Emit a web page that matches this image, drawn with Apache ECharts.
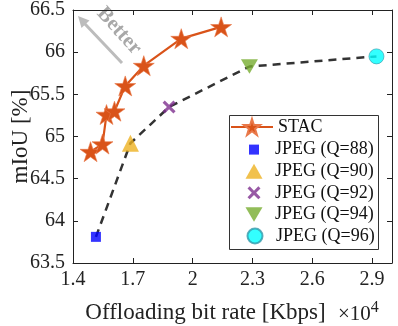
<!DOCTYPE html>
<html>
<head>
<meta charset="utf-8">
<script src="https://cdn.jsdelivr.net/npm/echarts@6/dist/echarts.min.js"></script>
<style>
  html, body { margin: 0; padding: 0; background: #fff; }
  #chart { width: 398px; height: 326px; }
</style>
</head>
<body>
<div id="chart"></div>
<script>
// bit rate in units of 1e4 Kbps, mIoU in %
const stacRate = [1.488, 1.548, 1.568, 1.608, 1.662, 1.755, 1.943, 2.143];
const stacMiou = [64.82, 64.91, 65.26, 65.30, 65.60, 65.84, 66.16, 66.30];

const jpegNames = ['JPEG (Q=88)', 'JPEG (Q=90)', 'JPEG (Q=92)', 'JPEG (Q=94)', 'JPEG (Q=96)'];
const jpegRate = [1.515, 1.688, 1.882, 2.285, 2.922];
const jpegMiou = [63.81, 64.92, 65.35, 65.83, 65.95];

const xTicks = [1.4, 1.7, 2.0, 2.3, 2.6, 2.9];

const font = 'Liberation Serif';
const starPath = 'path://M0,-1 L0.2245,-0.309 L0.951,-0.309 L0.363,0.118 L0.588,0.809 L0,0.382 L-0.588,0.809 L-0.363,0.118 L-0.951,-0.309 L-0.2245,-0.309 Z';
const xPath = 'path://M-3,-2 L-2,-3 L0,-1 L2,-3 L3,-2 L1,0 L3,2 L2,3 L0,1 L-2,3 L-3,2 L-1,0 Z';
const downPath = 'path://M-1,-0.85 L1,-0.85 L0,0.85 Z';

const jpegStyles = [
  { symbol: 'rect', size: 10, color: '#0000ff' },
  { symbol: 'triangle', size: 17, color: '#edb120' },
  { symbol: xPath, size: 13, color: '#7e2f8e' },
  { symbol: downPath, size: 17, color: '#77ac30' },
  { symbol: 'circle', size: 15, color: '#00ffff' }
];
// legend icon sizes [w, h]
const jpegIcons = [[10, 10], [17, 15], [13, 13], [17, 15], [15, 15]];

const chart = echarts.init(document.getElementById('chart'));

const series = [
  {
    name: 'jpegLine',
    type: 'line',
    data: jpegRate.map((x, i) => [x, jpegMiou[i]]),
    showSymbol: false,
    lineStyle: { color: '#333333', width: 2.5, type: [8, 6] },
    z: 1,
    silent: true
  },
  {
    name: 'STAC',
    type: 'line',
    data: stacRate.map((x, i) => [x, stacMiou[i]]),
    symbol: starPath,
    symbolSize: 21,
    symbolKeepAspect: true,
    itemStyle: { color: '#d95319', borderColor: '#e9794a', borderWidth: 0.6 },
    lineStyle: { color: '#d95319', width: 2.2 },
    z: 3
  }
];
jpegNames.forEach((name, i) => {
  const s = jpegStyles[i];
  series.push({
    name: name,
    type: 'scatter',
    data: [[jpegRate[i], jpegMiou[i]]],
    symbol: s.symbol,
    symbolSize: s.size,
    symbolKeepAspect: true,
    itemStyle: {
      color: s.color,
      borderColor: i === 4 ? '#3399aa' : s.color,
      borderWidth: i === 4 ? 0.8 : 0
    },
    z: 4
  });
});

// one legend per entry so each icon keeps its own size
const legendText = { fontFamily: font, fontSize: 18, color: '#111', lineHeight: 18 };
const legends = [{
  data: ['STAC'],
  left: 230,
  top: 128 - 10,
  padding: 0,
  itemWidth: 42,
  itemHeight: 20,
  textStyle: legendText
}];
jpegNames.forEach((name, i) => {
  const [w, h] = jpegIcons[i];
  const yc = 149.6 + i * 21.6;
  legends.push({
    data: [name],
    left: 254 - w / 2,
    top: yc - Math.max(h, 18) / 2,
    padding: 0,
    itemWidth: w,
    itemHeight: h,
    textStyle: Object.assign({}, legendText, { padding: [0, 0, 0, 16 - w / 2] })
  });
});

chart.setOption({
  animation: false,
  textStyle: { fontFamily: font },
  grid: { left: 73, right: 6, top: 10, bottom: 63, outerBoundsMode: 'none', containLabel: false },
  legend: legends,
  xAxis: [
    {
      type: 'value',
      min: 1.4,
      max: 3.0,
      name: 'Offloading bit rate [Kbps]',
      nameLocation: 'middle',
      nameGap: 38,
      nameMoveOverlap: false,
      nameTextStyle: { fontFamily: font, fontSize: 23, color: '#222', padding: [0, 54, 0, 0] },
      axisLine: { lineStyle: { color: '#222', width: 1 } },
      axisTick: { inside: true, length: 5, customValues: xTicks, lineStyle: { color: '#222' } },
      axisLabel: {
        customValues: xTicks,
        fontFamily: font, fontSize: 20, color: '#222', margin: 7,
        formatter: v => String(Math.round(v * 10) / 10)
      },
      splitLine: { show: false }
    },
    {
      type: 'value',
      position: 'top',
      min: 1.4,
      max: 3.0,
      axisLine: { show: true, lineStyle: { color: '#222', width: 1 } },
      axisTick: { inside: true, length: 5, customValues: xTicks, lineStyle: { color: '#222' } },
      axisLabel: { show: false },
      splitLine: { show: false }
    }
  ],
  yAxis: [
    {
      type: 'value',
      min: 63.5,
      max: 66.5,
      interval: 0.5,
      name: 'mIoU [%]',
      nameLocation: 'middle',
      nameGap: 41,
      nameMoveOverlap: false,
      nameTextStyle: { fontFamily: font, fontSize: 23, color: '#222' },
      axisLine: { show: true, lineStyle: { color: '#222', width: 1 } },
      axisTick: { inside: true, length: 5, lineStyle: { color: '#222' } },
      axisLabel: { fontFamily: font, fontSize: 20, color: '#222', margin: 8, formatter: v => String(v) },
      splitLine: { show: false }
    },
    {
      type: 'value',
      position: 'right',
      min: 63.5,
      max: 66.5,
      interval: 0.5,
      axisLine: { show: true, lineStyle: { color: '#222', width: 1 } },
      axisTick: { inside: true, length: 5, lineStyle: { color: '#222' } },
      axisLabel: { show: false },
      splitLine: { show: false }
    }
  ],
  graphic: [
    {
      type: 'rect',
      shape: { x: 229.5, y: 115.5, width: 149, height: 134 },
      style: { fill: '#fff', stroke: '#333', lineWidth: 1 },
      z: 3,
      silent: true
    },
    {
      type: 'line',
      shape: { x1: 122, y1: 63, x2: 85, y2: 24 },
      style: { stroke: '#bcbcbc', lineWidth: 3 },
      silent: true
    },
    {
      type: 'polygon',
      shape: { points: [[78, 16], [89.5, 20.5], [81.5, 28]] },
      style: { fill: '#bcbcbc' },
      silent: true
    },
    {
      type: 'text',
      x: 119,
      y: 31,
      rotation: -0.84,
      style: {
        text: 'Better',
        fill: '#a8a8a8',
        font: 'bold 21px "Liberation Serif"',
        align: 'center',
        verticalAlign: 'middle'
      },
      silent: true
    },
    {
      type: 'text',
      x: 338,
      y: 300,
      style: {
        text: '×10{s|4}',
        fill: '#222',
        font: '21px "Liberation Serif"',
        rich: { s: { fontSize: 16, fontFamily: font, verticalAlign: 'top', padding: [0, 0, 12, 0] } }
      },
      silent: true
    }
  ],
  series: series
});
</script>
</body>
</html>
